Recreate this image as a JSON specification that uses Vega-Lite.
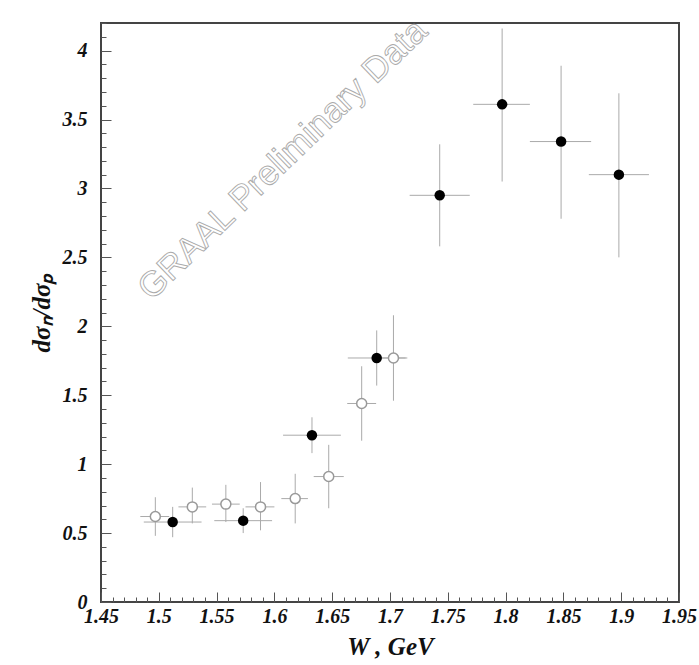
{
  "$schema": "https://vega.github.io/schema/vega-lite/v6.json",
  "width": 578,
  "height": 579,
  "autosize": {"type": "none"},
  "padding": {"left": 101, "top": 23, "right": 20, "bottom": 63},
  "background": "white",
  "config": {
    "view": {"stroke": "#444", "strokeWidth": 2},
    "axis": {
      "domain": false,
      "grid": false,
      "tickColor": "#555",
      "tickWidth": 1,
      "labelFont": "Liberation Serif",
      "labelFontWeight": "bold",
      "labelFontStyle": "italic",
      "labelFontSize": 20,
      "labelColor": "#111",
      "titleFont": "Liberation Serif",
      "titleFontWeight": "bold",
      "titleFontStyle": "italic",
      "titleFontSize": 25,
      "titleColor": "#111"
    }
  },
  "datasets": {
    "pts": [
      {"W": 1.512, "R": 0.58, "Wlo": 1.487, "Whi": 1.537, "Rlo": 0.47, "Rhi": 0.69, "set": "filled"},
      {"W": 1.573, "R": 0.59, "Wlo": 1.548, "Whi": 1.598, "Rlo": 0.50, "Rhi": 0.68, "set": "filled"},
      {"W": 1.6325, "R": 1.21, "Wlo": 1.6075, "Whi": 1.6575, "Rlo": 1.08, "Rhi": 1.34, "set": "filled"},
      {"W": 1.6885, "R": 1.77, "Wlo": 1.6635, "Whi": 1.7135, "Rlo": 1.57, "Rhi": 1.97, "set": "filled"},
      {"W": 1.743, "R": 2.95, "Wlo": 1.717, "Whi": 1.769, "Rlo": 2.58, "Rhi": 3.32, "set": "filled"},
      {"W": 1.797, "R": 3.61, "Wlo": 1.772, "Whi": 1.821, "Rlo": 3.05, "Rhi": 4.16, "set": "filled"},
      {"W": 1.848, "R": 3.34, "Wlo": 1.821, "Whi": 1.874, "Rlo": 2.78, "Rhi": 3.89, "set": "filled"},
      {"W": 1.898, "R": 3.10, "Wlo": 1.872, "Whi": 1.924, "Rlo": 2.50, "Rhi": 3.69, "set": "filled"},
      {"W": 1.497, "R": 0.62, "Wlo": 1.484, "Whi": 1.509, "Rlo": 0.48, "Rhi": 0.76, "set": "open"},
      {"W": 1.529, "R": 0.69, "Wlo": 1.517, "Whi": 1.541, "Rlo": 0.57, "Rhi": 0.83, "set": "open"},
      {"W": 1.558, "R": 0.71, "Wlo": 1.546, "Whi": 1.570, "Rlo": 0.58, "Rhi": 0.85, "set": "open"},
      {"W": 1.588, "R": 0.69, "Wlo": 1.575, "Whi": 1.600, "Rlo": 0.52, "Rhi": 0.87, "set": "open"},
      {"W": 1.618, "R": 0.75, "Wlo": 1.606, "Whi": 1.629, "Rlo": 0.57, "Rhi": 0.93, "set": "open"},
      {"W": 1.647, "R": 0.91, "Wlo": 1.634, "Whi": 1.660, "Rlo": 0.68, "Rhi": 1.14, "set": "open"},
      {"W": 1.6755, "R": 1.44, "Wlo": 1.663, "Whi": 1.688, "Rlo": 1.17, "Rhi": 1.71, "set": "open"},
      {"W": 1.703, "R": 1.77, "Wlo": 1.691, "Whi": 1.715, "Rlo": 1.46, "Rhi": 2.08, "set": "open"}
    ]
  },
  "data": {"name": "pts"},
  "encoding": {
    "x": {
      "field": "W", "type": "quantitative",
      "scale": {"domain": [1.45, 1.95], "nice": false, "zero": false},
      "axis": {
        "title": "W , GeV",
        "titlePadding": 3,
        "values": [1.45,1.46,1.47,1.48,1.49,1.5,1.51,1.52,1.53,1.54,1.55,1.56,1.57,1.58,1.59,1.6,1.61,1.62,1.63,1.64,1.65,1.66,1.67,1.68,1.69,1.7,1.71,1.72,1.73,1.74,1.75,1.76,1.77,1.78,1.79,1.8,1.81,1.82,1.83,1.84,1.85,1.86,1.87,1.88,1.89,1.9,1.91,1.92,1.93,1.94,1.95],
        "labelExpr": "abs(datum.value*20 - round(datum.value*20)) < 0.001 ? format(datum.value, '.3~f') : ''",
        "tickSize": {"condition": {"test": "abs(datum.value*20 - round(datum.value*20)) < 0.001", "value": -10}, "value": -5},
        "labelPadding": 14,
        "labelFlush": false,
        "labelOverlap": false
      }
    },
    "y": {
      "field": "R", "type": "quantitative",
      "scale": {"domain": [0, 4.2], "nice": false},
      "axis": {
        "title": "dσₙ/dσₚ",
        "titlePadding": 8,
        "values": [0,0.1,0.2,0.3,0.4,0.5,0.6,0.7,0.8,0.9,1,1.1,1.2,1.3,1.4,1.5,1.6,1.7,1.8,1.9,2,2.1,2.2,2.3,2.4,2.5,2.6,2.7,2.8,2.9,3,3.1,3.2,3.3,3.4,3.5,3.6,3.7,3.8,3.9,4,4.1,4.2],
        "labelExpr": "abs(datum.value*2 - round(datum.value*2)) < 0.001 ? format(datum.value, '.2~f') : ''",
        "tickSize": {"condition": {"test": "abs(datum.value*2 - round(datum.value*2)) < 0.001", "value": -10}, "value": -5},
        "labelPadding": 24,
        "labelFlush": false,
        "labelOverlap": false
      }
    }
  },
  "layer": [
    {
      "mark": {"type": "rule", "color": "#aaa", "strokeWidth": 1},
      "encoding": {"x": {"field": "Wlo"}, "x2": {"field": "Whi"}}
    },
    {
      "mark": {"type": "rule", "color": "#aaa", "strokeWidth": 1},
      "encoding": {"y": {"field": "Rlo"}, "y2": {"field": "Rhi"}}
    },
    {
      "transform": [{"filter": "datum.set === 'filled'"}],
      "mark": {"type": "point", "shape": "circle", "filled": true, "color": "black", "size": 110, "opacity": 1}
    },
    {
      "transform": [{"filter": "datum.set === 'open'"}],
      "mark": {"type": "point", "shape": "circle", "filled": false, "fill": "white", "fillOpacity": 1, "stroke": "#999", "strokeWidth": 1.5, "size": 100, "opacity": 1}
    },
    {
      "data": {"values": [{"W": 1.607, "R": 3.21, "label": "GRAAL Preliminary Data"}]},
      "mark": {"type": "text", "font": "Liberation Sans", "fontSize": 35, "angle": -44, "align": "center", "baseline": "middle", "fill": "white", "fillOpacity": 0, "stroke": "#aaa", "strokeWidth": 0.9},
      "encoding": {"text": {"field": "label"}}
    }
  ]
}
